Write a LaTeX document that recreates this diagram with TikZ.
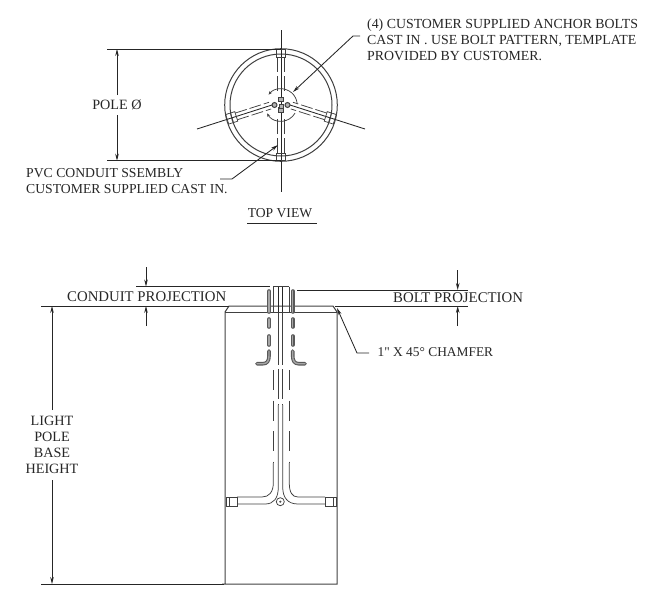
\documentclass[tikz,border=0pt]{standalone}
\usepackage{fontspec}
\setmainfont{Liberation Serif}
\newfontfamily\plainf{Liberation Serif}
\usetikzlibrary{arrows.meta}
\newcommand{\fsz}[1]{\fontsize{#1}{16}\selectfont}
\tikzset{
  x=1pt,y=-1pt,
  ln/.style={draw=black!75,line width=1pt},
  thin ln/.style={draw=black!75,line width=0.75pt},
  dim/.style={draw=black!85,line width=0.85pt},
  arr/.style={dim,-{Stealth[length=7pt,width=3.6pt]}},
  lab/.style={inner sep=0pt,text=black!85},
  labl/.style={lab,align=left,anchor=west},
  labc/.style={lab,align=center},
  bolt/.style={draw=black!65,line width=3.6pt,line cap=round},
  boltcore/.style={draw=black!35,line width=1.4pt,line cap=round},
}
\begin{document}
\begin{tikzpicture}
\useasboundingbox (0,0) rectangle (650,606);
% TOP VIEW
\coordinate (c) at (281,105);
\draw[ln] (c) circle[radius=56.3];
\draw[ln] (c) circle[radius=51];
\draw[dim] (281,30) -- (281,192);
\draw[dim] (197,129) -- (272,105);
\draw[dim] (365,129) -- (290,105);
% conduits, top view
\foreach \px/\a in {272/197.7,290/-17.7}{
\begin{scope}[shift={(\px,105)},rotate=\a]
 \draw[thin ln] (37.5,-5) rectangle (47,5);
 \draw[thin ln] (42,-5) -- (42,5);
 \draw[thin ln,dash pattern=on 12pt off 3pt] (37.5,-3.5) -- (2,-3.5);
 \draw[thin ln,dash pattern=on 12pt off 3pt] (37.5,3.5) -- (2,3.5);
\end{scope}}
\draw[thin ln] (276.5,49) rectangle (285.5,57);
\draw[thin ln] (276.5,153) rectangle (285.5,160.5);
\draw[thin ln,dash pattern=on 15pt off 4pt] (277.5,57) -- (277.5,92);
\draw[thin ln,dash pattern=on 15pt off 4pt] (284,57) -- (284,92);
\draw[thin ln,dash pattern=on 15pt off 4pt] (277.5,153) -- (277.5,118);
\draw[thin ln,dash pattern=on 15pt off 4pt] (284,153) -- (284,118);
% bolt circle
\draw[thin ln,{Stealth[length=3.5pt,width=3pt]}-] (268.6,94.6) arc[start angle=-140,end angle=-5,radius=16.2];
\draw[thin ln,{Stealth[length=3.5pt,width=3pt]}-] (267.1,113.4) arc[start angle=149,end angle=30,radius=16.2];
\draw[ln,fill=black!30] (278.5,97) rectangle (283.5,101.5);
\draw[ln,fill=black!30] (278.5,107) rectangle (283.5,112);
\draw[ln,fill=black!30] (274.5,105) circle[radius=2.5];
\draw[ln,fill=black!30] (287.5,105) circle[radius=2.5];
\draw[ln,fill=black!30] (279,104) rectangle (283,108);
% top-view dims
\draw[dim] (107,49) -- (281,49);
\draw[dim] (107,160.7) -- (281,160.7);
\node[labc,font=\fsz{14.2}] (pole) at (117,105) {POLE Ø};
\coordinate (poleT) at (117,49);
\coordinate (poleB) at (117,160.7);
\draw[arr] (117,95) -- (poleT);
\draw[arr] (117,115) -- (poleB);
% notes
\node[labl,font=\fsz{13.85}] (note) at (367,39.5) {(4) CUSTOMER SUPPLIED ANCHOR BOLTS\\CAST IN . USE BOLT PATTERN, TEMPLATE\\PROVIDED BY CUSTOMER.};
\coordinate (noteT) at (293,92);
\coordinate (noteA) at (360,36);
\coordinate (noteB) at (353,36);
\draw[arr] (noteA) -- (noteB) -- (noteT);
\node[labl,font=\fsz{13.7}] (pvc) at (26,181) {PVC CONDUIT SSEMBLY\\CUSTOMER SUPPLIED CAST IN.};
\coordinate (pvcT) at (278,145);
\coordinate (pvcA) at (220,179);
\coordinate (pvcB) at (232,179);
\draw[arr] (pvcA) -- (pvcB) -- (pvcT);
\node[labc,font=\fsz{13.6}] (tv) at (280,213) {TOP VIEW};
\draw[dim] (247,223.5) -- (317,223.5);
% ELEVATION body
\draw[ln] (225,584) -- (225,312) -- (229,306) -- (333,306) -- (337,312) -- (337,584) -- (222,584);
\draw[ln] (225,312) -- (337,312);
% extension lines
\draw[dim] (41,306) -- (229,306);
\draw[dim] (335,306) -- (468,306);
\draw[dim] (41,584) -- (224,584);
\draw[dim] (136,286.5) -- (270,286.5);
\draw[dim] (297,290) -- (468,290);
% conduit
\draw[thin ln] (273.3,286.5) -- (289.3,286.5);
\draw[thin ln] (273.3,286.5) -- (273.3,313);
\draw[thin ln] (289.3,286.5) -- (289.3,313);
\draw[dim] (278.3,286.5) -- (278.3,312);
\draw[dim] (282.7,286.5) -- (282.7,312);
\draw[thin ln,dash pattern=on 53pt off 4pt on 30pt off 5pt] (278.3,312) -- (278.3,405);
\draw[thin ln,dash pattern=on 53pt off 4pt on 30pt off 5pt] (282.7,312) -- (282.7,405);
\draw[thin ln] (278.3,405) -- (278.3,487) .. controls (278.3,498) and (274,504) .. (265,504) -- (237,504);
\draw[thin ln] (282.7,405) -- (282.7,487) .. controls (282.7,498) and (288,504) .. (298,504) -- (325,504);
\draw[thin ln,dash pattern=on 20pt off 10.5pt] (273.3,370) -- (273.3,462);
\draw[thin ln,dash pattern=on 20pt off 10.5pt] (289.3,370) -- (289.3,462);
\draw[thin ln] (273.3,463) -- (273.3,483) .. controls (273.3,492) and (269,497) .. (262,497) -- (237,497);
\draw[thin ln] (289.3,463) -- (289.3,483) .. controls (289.3,492) and (292,497) .. (298,497) -- (325,497);
\draw[thin ln] (226,497) rectangle (237,506);
\draw[thin ln] (325,497) rectangle (336,506);
\draw[thin ln] (229,497) -- (229,506);
\draw[thin ln] (333,497) -- (333,506);
\draw[thin ln] (280.3,501.7) circle[radius=4];
\fill[black!70] (280.3,501.7) circle[radius=1.2];
% anchor bolts
\foreach \s/\x/\e in {1/269/257,-1/292.7/305}{
 \foreach \st in {bolt,boltcore}{
 \draw[\st] (\x,291) -- (\x,312);
 \draw[\st] (\x,319) -- (\x,327);
 \draw[\st] (\x,336) -- (\x,345);
 \draw[\st] (\x,351) -- (\x,356) .. controls (\x,361) and (\x-\s*2,363.7) .. (\x-\s*6,363.7) -- (\e,363.7);
 }
}
% elevation dims
\node[labl,font=\fsz{14.8}] (cp) at (67,297) {CONDUIT PROJECTION};
\coordinate (cpT) at (146,286.5);
\coordinate (cpB) at (146,306);
\draw[arr] (146,267) -- (cpT);
\draw[arr] (146,326) -- (cpB);
\node[labl,font=\fsz{14.8}] (bp) at (393,298) {BOLT PROJECTION};
\coordinate (bpT) at (457.7,290);
\coordinate (bpB) at (457.7,306);
\draw[arr] (457.7,270) -- (bpT);
\draw[arr] (457.7,326) -- (bpB);
\node[labl,font=\fsz{13.4}\plainf] (ch) at (377.5,352) {1" X 45° CHAMFER};
\coordinate (chT) at (337,308);
\coordinate (chA) at (369,353);
\coordinate (chB) at (357,353);
\draw[arr] (chA) -- (chB) -- (chT);
\node[labc,font=\fsz{14.2}] (lp) at (52,445) {LIGHT\\POLE\\BASE\\HEIGHT};
\coordinate (lpT) at (52,306);
\coordinate (lpB) at (52,584);
\draw[arr] (52,410) -- (lpT);
\draw[arr] (52,480) -- (lpB);
\end{tikzpicture}
\end{document}
